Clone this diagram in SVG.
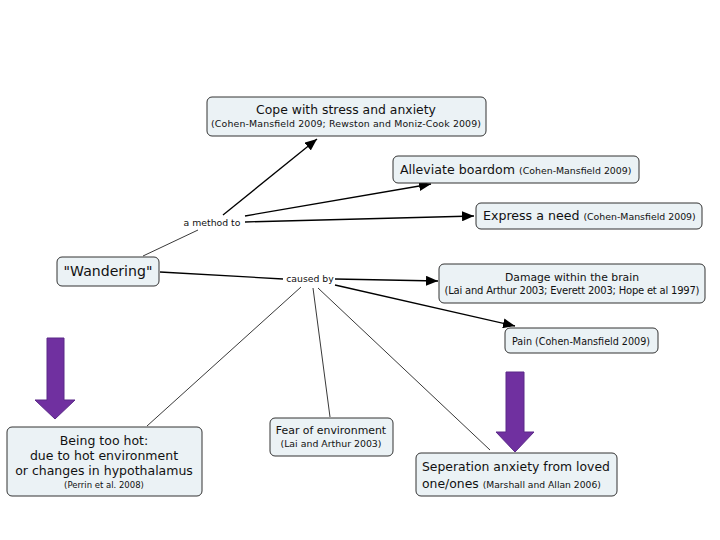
<svg xmlns="http://www.w3.org/2000/svg" width="720" height="540" viewBox="0 0 720 540">
<defs>
<marker id="ah" viewBox="0 0 12 10" refX="12" refY="5" markerWidth="12" markerHeight="10" markerUnits="userSpaceOnUse" orient="auto">
<path d="M0,0 L12,5 L0,10 Z" fill="#000"/>
</marker>
</defs>
<style>
.box{fill:#ebf2f5;stroke:#333;stroke-width:1}
text{font-family:"DejaVu Sans",Verdana,sans-serif;fill:#111}
.m{font-size:12.4px}
.c{font-size:9.4px}
.lbl{font-size:9.3px}
.arr{fill:none;stroke:#000;stroke-width:1.3}
.thin{fill:none;stroke:#222;stroke-width:0.9}
.purple{fill:#7030a0;stroke:#5a2888;stroke-width:1}
</style>
<rect width="720" height="540" fill="#fff"/>
<g id="connectors">
<line class="thin" x1="143" y1="256" x2="198" y2="230"/>
<line class="arr" x1="223" y1="215" x2="317" y2="139" marker-end="url(#ah)"/>
<line class="arr" x1="245" y1="216" x2="431" y2="184" marker-end="url(#ah)"/>
<line class="arr" x1="245" y1="222" x2="474" y2="216" marker-end="url(#ah)"/>
<line class="arr" x1="160" y1="272" x2="283" y2="279"/>
<line class="arr" x1="335" y1="279" x2="438" y2="281" marker-end="url(#ah)"/>
<line class="arr" x1="335" y1="285" x2="515" y2="326" marker-end="url(#ah)"/>
<line class="thin" x1="301" y1="287" x2="147" y2="426"/>
<line class="thin" x1="313" y1="288" x2="330" y2="417"/>
<line class="thin" x1="318" y1="288" x2="490" y2="450"/>
</g>
<g id="label-method"><text class="lbl" x="212" y="226" text-anchor="middle">a method to</text></g>
<g id="label-caused"><text class="lbl" x="310" y="282" text-anchor="middle">caused by</text></g>
<g id="node-cope">
<rect class="box" x="207" y="97" width="279" height="39" rx="5"/>
<text class="m" x="346" y="114" text-anchor="middle">Cope with stress and anxiety</text>
<text class="c" x="346" y="127" text-anchor="middle" textLength="270">(Cohen-Mansfield 2009; Rewston and Moniz-Cook 2009)</text>
</g>
<g id="node-alleviate">
<rect class="box" x="393" y="156" width="246" height="27" rx="5"/>
<text x="400" y="174"><tspan class="m" style="font-size:12.6px">Alleviate boardom </tspan><tspan class="c">(Cohen-Mansfield 2009)</tspan></text>
</g>
<g id="node-express">
<rect class="box" x="476" y="203" width="226" height="26" rx="5"/>
<text x="483" y="220"><tspan class="m" style="font-size:12.6px">Express a need </tspan><tspan class="c">(Cohen-Mansfield 2009)</tspan></text>
</g>
<g id="node-wandering">
<rect class="box" x="57" y="257" width="102" height="29" rx="5"/>
<text x="108" y="276" text-anchor="middle" style="font-size:14.1px">"Wandering"</text>
</g>
<g id="node-damage">
<rect class="box" x="439" y="264" width="266" height="39" rx="5"/>
<text x="572" y="281" text-anchor="middle" style="font-size:10.8px">Damage within the brain</text>
<text x="572" y="294" text-anchor="middle" style="font-size:10px" textLength="255">(Lai and Arthur 2003; Everett 2003; Hope et al 1997)</text>
</g>
<g id="node-pain">
<rect class="box" x="505" y="328" width="153" height="25" rx="5"/>
<text x="581" y="345" text-anchor="middle" style="font-size:9.6px">Pain (Cohen-Mansfield 2009)</text>
</g>
<g id="node-hot">
<rect class="box" x="7" y="427" width="195" height="69" rx="5"/>
<text class="m" x="104" y="445" text-anchor="middle" style="font-size:12.5px">Being too hot:</text>
<text class="m" x="104" y="460" text-anchor="middle" style="font-size:12.5px">due to hot environment</text>
<text class="m" x="104" y="475" text-anchor="middle" style="font-size:12.5px">or changes in hypothalamus</text>
<text x="104" y="488" text-anchor="middle" style="font-size:8.5px">(Perrin et al. 2008)</text>
</g>
<g id="node-fear">
<rect class="box" x="270" y="418" width="123" height="38" rx="5"/>
<text x="331" y="434" text-anchor="middle" style="font-size:10.9px">Fear of environment</text>
<text x="331" y="447" text-anchor="middle" style="font-size:9.4px">(Lai and Arthur 2003)</text>
</g>
<g id="node-separation">
<rect class="box" x="416" y="453" width="201" height="43" rx="5"/>
<text class="m" x="422" y="471">Seperation anxiety from loved</text>
<text x="422" y="488"><tspan class="m">one/ones </tspan><tspan style="font-size:9.2px">(Marshall and Allan 2006)</tspan></text>
</g>
<g id="purple-arrow-left">
<path class="purple" d="M47,338 H64 V400 H75 L55,419 L35,400 H47 Z"/>
</g>
<g id="purple-arrow-right">
<path class="purple" d="M506,372 H524 V432 H534 L515,452 L496,432 H506 Z"/>
</g>
</svg>
